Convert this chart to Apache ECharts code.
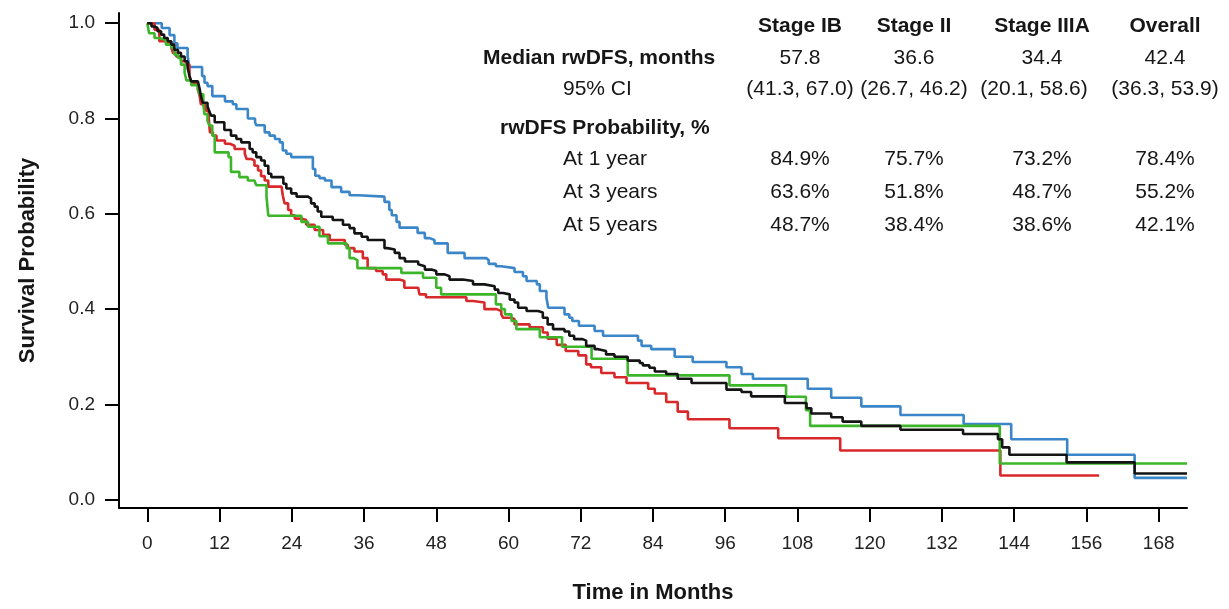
<!DOCTYPE html>
<html>
<head>
<meta charset="utf-8">
<title>rwDFS by stage</title>
<script src="https://cdn.jsdelivr.net/npm/echarts@6/dist/echarts.min.js"></script>
<style>
  html, body { margin: 0; padding: 0; background: #fff; }
  #km-chart { width: 1229px; height: 609px; }
</style>
</head>
<body>
<div id="km-chart"></div>
<script>
// Kaplan-Meier steps (months, survival probability)
const ibTime = [0, 2.4, 3.7, 4.5, 5.0, 6.7, 7.0, 9.1, 9.5, 10.0, 10.8, 12.9, 14.2, 14.8, 16.7, 17.9, 18.1, 19.5, 20.3, 21.2, 22.0, 22.5, 23.1, 23.9, 27.5, 27.9, 28.6, 29.5, 30.6, 32.2, 33.6, 35.0, 39.4, 40.2, 40.6, 41.4, 41.9, 44.9, 46.1, 46.9, 47.7, 49.9, 52.7, 56.3, 56.7, 57.9, 58.8, 61.0, 62.4, 63.0, 64.7, 65.2, 66.3, 66.6, 69.3, 70.1, 70.6, 71.7, 74.3, 75.7, 81.5, 82.1, 83.7, 87.6, 90.6, 96.2, 98.7, 100.6, 109.7, 113.6, 118.6, 125.1, 135.6, 143.5, 152.8, 164.0, 172.7]
const ibSurv = [1.0, 0.990, 0.975, 0.958, 0.948, 0.930, 0.908, 0.889, 0.875, 0.868, 0.847, 0.836, 0.830, 0.820, 0.800, 0.792, 0.786, 0.771, 0.764, 0.757, 0.750, 0.733, 0.726, 0.719, 0.694, 0.680, 0.675, 0.670, 0.656, 0.646, 0.639, 0.636, 0.625, 0.608, 0.597, 0.583, 0.571, 0.560, 0.549, 0.545, 0.538, 0.518, 0.507, 0.503, 0.495, 0.490, 0.486, 0.478, 0.469, 0.459, 0.452, 0.438, 0.424, 0.403, 0.389, 0.382, 0.375, 0.365, 0.354, 0.344, 0.334, 0.323, 0.316, 0.300, 0.289, 0.278, 0.264, 0.254, 0.233, 0.214, 0.196, 0.178, 0.159, 0.127, 0.0945, 0.046, 0.046]

const iiTime = [0, 1.2, 2.0, 2.9, 4.0, 4.3, 4.8, 5.6, 6.5, 7.0, 7.3, 7.9, 8.4, 8.7, 8.9, 9.5, 9.8, 10.2, 10.4, 10.9, 11.5, 12.9, 13.7, 14.5, 16.2, 16.5, 17.3, 17.8, 18.4, 18.9, 19.5, 20.1, 22.3, 22.5, 22.8, 23.4, 23.9, 24.5, 25.6, 26.4, 27.8, 29.2, 30.3, 32.8, 33.3, 34.4, 35.8, 36.6, 38.0, 39.1, 39.7, 41.9, 42.7, 45.0, 45.2, 46.3, 53.0, 54.1, 56.0, 58.0, 58.8, 59.1, 60.5, 61.0, 63.5, 65.7, 66.5, 68.0, 69.5, 71.6, 72.9, 73.7, 75.4, 77.6, 79.6, 83.2, 84.3, 86.2, 88.1, 89.8, 96.7, 104.8, 115.1, 141.7, 158.1]
const iiSurv = [1.0, 0.986, 0.962, 0.958, 0.948, 0.937, 0.930, 0.920, 0.913, 0.889, 0.875, 0.872, 0.861, 0.847, 0.830, 0.826, 0.816, 0.802, 0.771, 0.764, 0.754, 0.747, 0.743, 0.736, 0.726, 0.715, 0.712, 0.701, 0.691, 0.679, 0.670, 0.657, 0.653, 0.639, 0.622, 0.608, 0.597, 0.590, 0.587, 0.577, 0.566, 0.556, 0.545, 0.535, 0.528, 0.521, 0.507, 0.486, 0.480, 0.473, 0.462, 0.459, 0.445, 0.441, 0.431, 0.425, 0.417, 0.414, 0.400, 0.396, 0.389, 0.382, 0.379, 0.368, 0.362, 0.351, 0.338, 0.325, 0.312, 0.303, 0.284, 0.278, 0.266, 0.257, 0.245, 0.233, 0.223, 0.205, 0.185, 0.169, 0.150, 0.129, 0.1035, 0.051, 0.051]

const iiiaTime = [0, 0.3, 1.2, 2.0, 3.1, 4.0, 4.5, 5.1, 5.6, 6.2, 6.5, 7.3, 8.4, 8.7, 9.3, 9.5, 10.0, 10.3, 10.8, 11.2, 13.5, 13.9, 15.3, 16.7, 17.8, 18.1, 19.8, 20.1, 25.6, 26.7, 28.6, 30.0, 33.1, 33.6, 34.3, 34.9, 42.2, 45.8, 48.0, 48.8, 57.9, 58.8, 59.4, 60.5, 61.3, 65.2, 68.9, 73.8, 79.8, 96.7, 106.1, 109.4, 110.1, 141.6, 172.7]
const iiiaSurv = [1.0, 0.979, 0.969, 0.965, 0.955, 0.948, 0.934, 0.927, 0.913, 0.896, 0.880, 0.870, 0.861, 0.851, 0.830, 0.809, 0.795, 0.785, 0.764, 0.729, 0.719, 0.688, 0.677, 0.670, 0.667, 0.660, 0.636, 0.596, 0.583, 0.573, 0.553, 0.538, 0.528, 0.507, 0.503, 0.486, 0.476, 0.466, 0.445, 0.431, 0.410, 0.400, 0.389, 0.375, 0.358, 0.341, 0.321, 0.296, 0.261, 0.240, 0.216, 0.188, 0.155, 0.076, 0.076]

const allTime = [0, 0.7, 1.2, 1.7, 2.3, 2.8, 3.4, 4.0, 4.5, 5.1, 5.6, 6.2, 6.7, 7.0, 7.3, 8.4, 8.7, 8.9, 9.2, 10.0, 10.3, 10.6, 11.2, 12.8, 13.9, 14.8, 15.6, 17.0, 17.5, 18.1, 18.9, 19.5, 20.1, 20.6, 22.6, 23.1, 23.9, 24.8, 26.7, 27.2, 27.8, 28.3, 28.9, 30.8, 32.5, 33.6, 34.4, 35.6, 36.6, 39.4, 39.9, 41.1, 41.9, 42.8, 45.0, 45.3, 46.1, 47.2, 48.0, 49.4, 50.2, 52.4, 54.1, 56.0, 57.7, 58.3, 59.1, 60.2, 61.0, 61.6, 63.0, 64.9, 65.7, 66.5, 67.4, 69.3, 70.1, 70.9, 72.3, 72.9, 74.3, 74.9, 76.2, 77.6, 79.8, 81.8, 82.3, 83.4, 84.3, 86.2, 88.1, 90.4, 96.2, 98.7, 100.3, 105.9, 109.5, 110.3, 113.6, 115.5, 118.6, 125.1, 135.5, 141.3, 142.0, 143.2, 152.7, 164.0, 172.7]
const allSurv = [1.0, 0.993, 0.990, 0.983, 0.976, 0.969, 0.962, 0.955, 0.944, 0.938, 0.930, 0.920, 0.906, 0.890, 0.878, 0.875, 0.862, 0.847, 0.833, 0.826, 0.815, 0.806, 0.792, 0.776, 0.764, 0.757, 0.750, 0.736, 0.729, 0.719, 0.712, 0.701, 0.684, 0.677, 0.663, 0.653, 0.643, 0.636, 0.632, 0.622, 0.615, 0.605, 0.594, 0.587, 0.577, 0.570, 0.559, 0.552, 0.545, 0.528, 0.525, 0.518, 0.507, 0.500, 0.494, 0.490, 0.483, 0.480, 0.473, 0.469, 0.462, 0.459, 0.452, 0.448, 0.441, 0.434, 0.431, 0.420, 0.414, 0.403, 0.396, 0.393, 0.382, 0.368, 0.358, 0.353, 0.344, 0.337, 0.334, 0.323, 0.316, 0.312, 0.305, 0.300, 0.292, 0.287, 0.282, 0.277, 0.269, 0.264, 0.254, 0.245, 0.231, 0.226, 0.217, 0.203, 0.192, 0.181, 0.173, 0.164, 0.155, 0.147, 0.138, 0.127, 0.110, 0.0945, 0.0785, 0.055, 0.055]

const xTicks = [0, 12, 24, 36, 48, 60, 72, 84, 96, 108, 120, 132, 144, 156, 168]
const yTicks = [0, 0.2, 0.4, 0.6, 0.8, 1.0]

// summary table
const stageNames = ['Stage IB', 'Stage II', 'Stage IIIA', 'Overall']
const medianMonths = ['57.8', '36.6', '34.4', '42.4']
const medianCI = ['(41.3, 67.0)', '(26.7, 46.2)', '(20.1, 58.6)', '(36.3, 53.9)']
const prob1y = ['84.9%', '75.7%', '73.2%', '78.4%']
const prob3y = ['63.6%', '51.8%', '48.7%', '55.2%']
const prob5y = ['48.7%', '38.4%', '38.6%', '42.1%']

const FONT = '"Liberation Sans", Arial, sans-serif'
const ink = '#161616'

function zip(ts, ss) {
  return ts.map((t, i) => [t, ss[i]])
}

function kmSeries(name, ts, ss, color) {
  return {
    name: name,
    type: 'line',
    step: 'end',
    symbol: 'none',
    data: zip(ts, ss),
    lineStyle: { color: color, width: 2.6 },
    itemStyle: { color: color },
    emphasis: { disabled: true },
  }
}

// table layout
const colX = [800, 914, 1042, 1165]
const ciX = [800, 914, 1034, 1165]
const rowY = { head: 26, med: 58, ci: 89, prob: 128, y1: 159, y3: 192, y5: 225 }

function txt(text, x, y, align, bold) {
  return {
    type: 'text',
    silent: true,
    style: {
      text: text,
      x: x,
      y: y,
      align: align,
      verticalAlign: 'middle',
      fill: ink,
      font: (bold ? 'bold ' : '') + '21px ' + FONT,
    },
  }
}

const graphic = []
stageNames.forEach((s, i) => graphic.push(txt(s, colX[i], rowY.head, 'center', true)))
medianMonths.forEach((s, i) => graphic.push(txt(s, colX[i], rowY.med, 'center', false)))
medianCI.forEach((s, i) => graphic.push(txt(s, ciX[i], rowY.ci, 'center', false)))
prob1y.forEach((s, i) => graphic.push(txt(s, colX[i], rowY.y1, 'center', false)))
prob3y.forEach((s, i) => graphic.push(txt(s, colX[i], rowY.y3, 'center', false)))
prob5y.forEach((s, i) => graphic.push(txt(s, colX[i], rowY.y5, 'center', false)))
graphic.push(txt('Median rwDFS, months', 483, rowY.med, 'left', true))
graphic.push(txt('95% CI', 563, rowY.ci, 'left', false))
graphic.push(txt('rwDFS Probability, %', 500, rowY.prob, 'left', true))
graphic.push(txt('At 1 year', 563, rowY.y1, 'left', false))
graphic.push(txt('At 3 years', 563, rowY.y3, 'left', false))
graphic.push(txt('At 5 years', 563, rowY.y5, 'left', false))

const axisLineStyle = { color: '#000', width: 2 }
const labelStyle = { color: '#222', fontSize: 19, fontFamily: FONT }

const options = {
  animation: false,
  backgroundColor: '#fff',
  grid: { left: 119, top: 13, width: 1068, height: 499 },
  xAxis: {
    type: 'value',
    min: -4.7,
    max: 172.7,
    name: 'Time in Months',
    nameLocation: 'middle',
    nameGap: 74,
    nameTextStyle: { fontSize: 22, fontWeight: 'bold', color: ink, fontFamily: FONT },
    axisLine: { show: true, onZero: false, lineStyle: axisLineStyle },
    axisTick: { show: true, length: 14, customValues: xTicks, lineStyle: axisLineStyle },
    axisLabel: Object.assign({ customValues: xTicks, margin: 26 }, labelStyle),
    splitLine: { show: false },
  },
  yAxis: {
    type: 'value',
    min: -0.0173,
    max: 1.0214,
    name: 'Survival Probability',
    nameLocation: 'middle',
    nameGap: 80,
    nameTextStyle: { fontSize: 22, fontWeight: 'bold', color: ink, fontFamily: FONT },
    axisLine: { show: true, onZero: false, lineStyle: axisLineStyle },
    axisTick: { show: true, length: 14, customValues: yTicks, lineStyle: axisLineStyle },
    axisLabel: Object.assign({
      customValues: yTicks,
      margin: 24,
      formatter: (v) => v.toFixed(1),
    }, labelStyle),
    splitLine: { show: false },
  },
  series: [
    kmSeries('Stage IB', ibTime, ibSurv, '#3a86c8'),
    kmSeries('Stage II', iiTime, iiSurv, '#d8282a'),
    kmSeries('Stage IIIA', iiiaTime, iiiaSurv, '#3db52b'),
    kmSeries('Overall', allTime, allSurv, '#141414'),
  ],
  graphic: graphic,
}

const chart = echarts.init(document.getElementById('km-chart'))
chart.setOption(options)
</script>
</body>
</html>
